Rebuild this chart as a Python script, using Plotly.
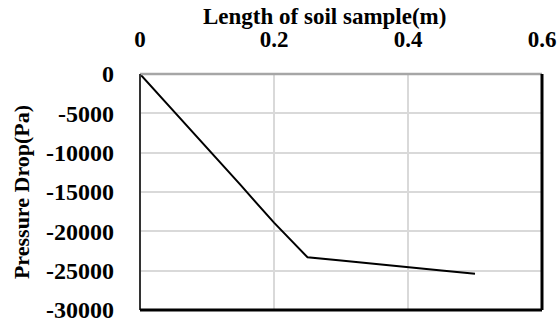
import plotly.graph_objects as go

length_m = [0, 0.05, 0.1, 0.15, 0.2, 0.25, 0.3, 0.35, 0.4, 0.45, 0.5]
pressure_pa = [0, -4700, -9300, -14100, -18900, -23300, -23700, -24150, -24600, -24980, -25380]
x_ticks = [0, 0.2, 0.4, 0.6]
y_ticks = [0, -5000, -10000, -15000, -20000, -25000, -30000]

FONT = "Liberation Serif, Times New Roman, serif"
PLOT_H = 236
PLOT_W = 402
TOP = 74
LEFT = 140

fig = go.Figure()
fig.add_trace(go.Scatter(x=length_m, y=pressure_pa, mode="lines",
                         line=dict(color="black", width=2), showlegend=False))

fig.update_layout(
    width=557, height=320,
    margin=dict(l=LEFT, r=15, t=TOP, b=10, autoexpand=False),
    paper_bgcolor="white", plot_bgcolor="white",
    font=dict(family=FONT, color="black"),
    xaxis=dict(side="top", range=[0, 0.6], tickvals=x_ticks,
               ticktext=["0", "0.2", "0.4", "0.6"],
               tickfont=dict(size=23, family=FONT, weight="bold"),
               showgrid=True, gridcolor="#d9d9d9", gridwidth=1.5,
               zeroline=False, showline=False, ticks="", ticklen=0,
               automargin=False, ticklabeloverflow="allow",
               ticklabelstandoff=21),
    yaxis=dict(range=[-30000, 0], tickvals=y_ticks,
               ticktext=[str(v) for v in y_ticks],
               tickfont=dict(size=24, family=FONT, weight="bold"),
               showgrid=True, gridcolor="#d9d9d9", gridwidth=1.5,
               zeroline=False, showline=False, ticks="", ticklen=0,
               automargin=False, ticklabeloverflow="allow",
               ticklabelstandoff=25,
               title=dict(text="<b>Pressure Drop(Pa)</b>",
                          font=dict(size=22, family=FONT), standoff=10)),
)

# x-axis title placed as annotation for exact position
fig.add_annotation(text="<b>Length of soil sample(m)</b>",
                   xref="paper", yref="paper",
                   x=(324 - LEFT) / PLOT_W, y=1 + (TOP - 17) / PLOT_H,
                   yanchor="middle", xanchor="center", showarrow=False,
                   borderpad=0,
                   font=dict(size=23, family=FONT, color="black"))

# frame: gray top, black left/right/bottom
fig.add_shape(type="line", xref="paper", yref="paper", x0=0, x1=1, y0=1, y1=1,
              line=dict(color="#a6a6a6", width=2.5))
fig.add_shape(type="line", xref="paper", yref="paper", x0=0, x1=0, y0=0, y1=1,
              line=dict(color="#333333", width=2))
fig.add_shape(type="line", xref="paper", yref="paper", x0=1, x1=1, y0=0, y1=1,
              line=dict(color="black", width=3))
fig.add_shape(type="line", xref="paper", yref="paper", x0=0, x1=1, y0=0, y1=0,
              line=dict(color="black", width=3))

# figure caption, clipped at the very top as in the reference
fig.add_annotation(text="<b>Figure 4: Pressure drop along the soil sample</b>",
                   xref="paper", yref="paper", x=0.3, y=1 + 75 / PLOT_H,
                   yanchor="bottom", xanchor="center", showarrow=False,
                   font=dict(size=22, family=FONT, color="black"))

fig.write_html("out.html")
